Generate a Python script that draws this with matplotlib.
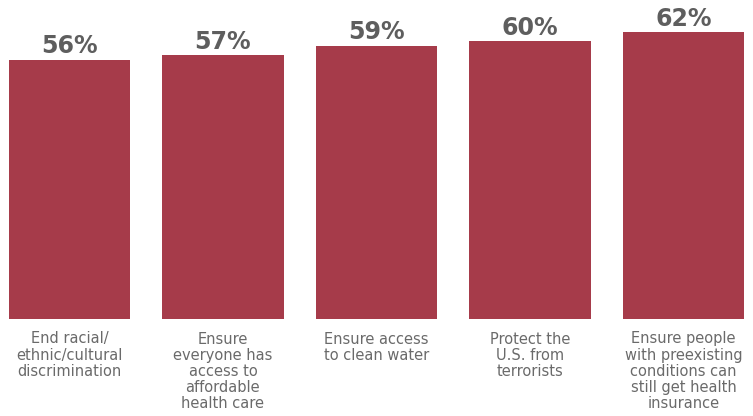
import matplotlib.pyplot as plt
import numpy as np

BAR_COLOR = "#a63b4a"
VALUE_COLOR = "#5e5e5e"
LABEL_COLOR = "#6a6a6a"

categories = [
    "End racial/\nethnic/cultural\ndiscrimination",
    "Ensure\neveryone has\naccess to\naffordable\nhealth care",
    "Ensure access\nto clean water",
    "Protect the\nU.S. from\nterrorists",
    "Ensure people\nwith preexisting\nconditions can\nstill get health\ninsurance",
]
values = [56, 57, 59, 60, 62]

fig = plt.figure(figsize=(7.53, 4.16), dpi=100)
ax = fig.add_axes([0, 97 / 416, 1, 319 / 416])

x = np.arange(len(values))
bars = ax.bar(x, values, width=0.79, color=BAR_COLOR)

ax.set_xlim(-0.452, 4.453)
ax.set_ylim(0, 68.9)
ax.axis("off")

# value labels on top of the bars
for rect, v in zip(bars, values):
    ax.annotate(
        f"{v}%",
        xy=(rect.get_x() + rect.get_width() / 2, rect.get_height()),
        xytext=(0, 1),
        textcoords="offset points",
        ha="center",
        va="bottom",
        fontsize=17,
        fontweight="bold",
        color=VALUE_COLOR,
    )

# category labels under the bars
for xi, cat in zip(x, categories):
    ax.annotate(
        cat,
        xy=(xi, 0),
        xytext=(0, -9),
        textcoords="offset points",
        ha="center",
        va="top",
        fontsize=10.5,
        color=LABEL_COLOR,
        linespacing=1.1,
    )

plt.savefig("out.png", dpi=100)
